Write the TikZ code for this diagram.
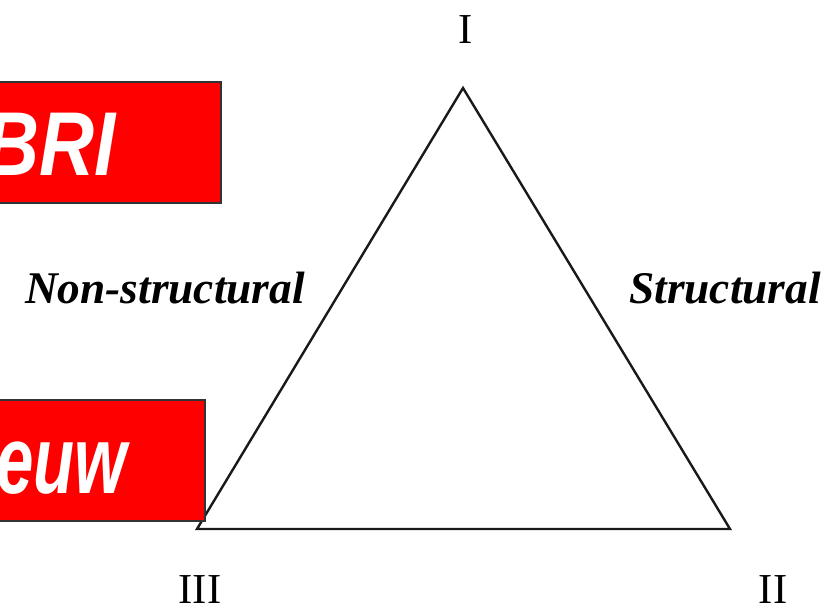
\documentclass[tikz,border=0pt]{standalone}
\usepackage{fontspec}
\setmainfont{Liberation Serif}
\newfontfamily\arialfont{Liberation Sans}
\usepackage{graphicx}
\usepackage{tikz}
\usetikzlibrary{positioning}

\begin{document}
\begin{tikzpicture}[x=0.75pt,y=-0.75pt,
    redbox/.style={fill=red,draw=black!80,line width=0.8pt},
    boxtext/.style={text=white,inner sep=0pt,font=\arialfont\bfseries\itshape\fontsize{66}{70}\selectfont},
    vertex/.style={inner sep=0pt,font=\fontsize{32}{36}\selectfont},
    side/.style={font=\bfseries\itshape\fontsize{34}{38}\selectfont}]
        \useasboundingbox (0,0) rectangle (832,612);
        \clip (0,0) rectangle (832,612);
        % triangle
        \coordinate (top) at (463,88);
        \coordinate (left) at (197,529);
        \coordinate (right) at (730,529);
        \draw[line width=1.8pt,black!90,line join=miter] (top) -- (right) -- (left) -- cycle;
        \node[vertex,anchor=base] (v1) at (466,43) {I};
        \node[vertex,anchor=base] (v3) at (200,603) {III};
        \node[vertex,anchor=base] (v2) at (773,603) {II};
        \node[side] (nonstr) at (165,288) {Non-structural};
        \node[side] (str) at (725,288) {Structural};
        % red boxes
        \draw[redbox] (-10,82) rectangle (221,203);
        \node[boxtext,anchor=base east] (bri) at (116,175) {\scalebox{0.84}[1]{\fontsize{68}{72}\selectfont BRI}};
        \draw[redbox] (-10,400) rectangle (205,521);
        \node[boxtext,anchor=base east] (euw) at (127,493) {\scalebox{0.7}[1]{\fontsize{72}{76}\selectfont euw}};
      \end{tikzpicture}
\end{document}
